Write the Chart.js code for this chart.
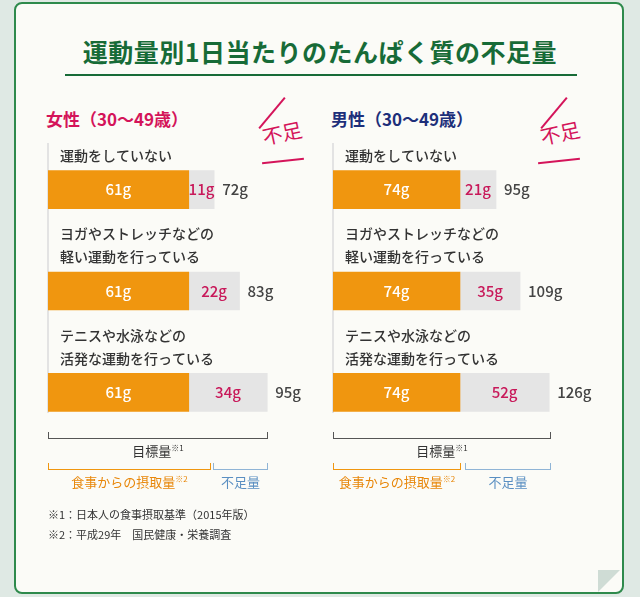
<!DOCTYPE html>
<html><head><meta charset="utf-8">
<script src="https://cdn.jsdelivr.net/npm/chart.js@4"></script>
<style>
body{margin:0;width:640px;height:597px;background:#dfe9e4;font-family:"Noto Sans CJK JP","Noto Sans",sans-serif;overflow:hidden;position:relative}
.card{position:absolute;left:14px;top:2px;width:606px;height:588px;background:#fbfbf7;border:2px solid #2e8a4c;border-radius:8px}
.abs{position:absolute;white-space:nowrap}
.title{left:0;width:640px;top:33px;text-align:center;font-size:25px;font-weight:bold;color:#176b37;letter-spacing:0.5px}
.uline{left:65px;top:74px;width:512px;height:2px;background:#176b37}
h2{margin:0;font-size:17px;font-weight:bold}
.vline{width:2px;background:#e3e3e3}
.br{border:1px solid #555;border-top:none;height:6px}
.small{font-size:12px;color:#333}
canvas{position:absolute}
.fuso{font-size:20px;color:#d4145a;transform:rotate(-12deg);font-family:"Noto Sans CJK JP";}
.stroke{height:2px;background:#d4145a}
</style></head><body>
<div class="card"></div>
<div class="abs title">運動量別1日当たりのたんぱく質の不足量</div>
<div class="abs uline"></div>

<h2 class="abs" style="left:46px;top:106px;color:#d4145a">女性（30〜49歳）</h2>
<h2 class="abs" style="left:331px;top:106px;color:#1d2f7a">男性（30〜49歳）</h2>

<div class="abs stroke" style="left:252px;top:112px;width:40px;transform:rotate(-50deg)"></div>
<div class="abs fuso" style="left:262px;top:118px">不足</div>
<div class="abs stroke" style="left:262px;top:160px;width:42px;transform:rotate(-6deg)"></div>
<div class="abs stroke" style="left:534px;top:112px;width:40px;transform:rotate(-50deg)"></div>
<div class="abs fuso" style="left:540px;top:118px">不足</div>
<div class="abs stroke" style="left:538px;top:160px;width:42px;transform:rotate(-6deg)"></div>

<div class="abs vline" style="left:47px;top:143px;height:270px"></div>
<div class="abs vline" style="left:332px;top:143px;height:270px"></div>

<canvas id="women" style="left:48px;top:139px;width:270px;height:304px"></canvas>
<canvas id="men" style="left:333px;top:139px;width:290px;height:304px"></canvas>

<div class="abs br" style="left:48px;top:432px;width:218px"></div>
<div class="abs small" style="left:48px;top:441px;width:220px;text-align:center;font-size:13px">目標量<sup style="font-size:8px">※1</sup></div>
<div class="abs br" style="left:48px;top:463px;width:161px;border-color:#f0960f"></div>
<div class="abs" style="left:48px;top:472px;width:163px;text-align:center;font-size:13px;color:#e8870a">食事からの摂取量<sup style="font-size:8px">※2</sup></div>
<div class="abs br" style="left:213px;top:463px;width:53px;border-color:#8fb4d6"></div>
<div class="abs" style="left:213px;top:472px;width:55px;text-align:center;font-size:13px;color:#5a8fc2">不足量</div>

<div class="abs br" style="left:333px;top:432px;width:216px"></div>
<div class="abs small" style="left:333px;top:441px;width:218px;text-align:center;font-size:13px">目標量<sup style="font-size:8px">※1</sup></div>
<div class="abs br" style="left:333px;top:463px;width:126px;border-color:#f0960f"></div>
<div class="abs" style="left:333px;top:472px;width:128px;text-align:center;font-size:13px;color:#e8870a">食事からの摂取量<sup style="font-size:8px">※2</sup></div>
<div class="abs br" style="left:465px;top:463px;width:84px;border-color:#8fb4d6"></div>
<div class="abs" style="left:465px;top:472px;width:86px;text-align:center;font-size:13px;color:#5a8fc2">不足量</div>

<div class="abs small" style="left:48px;top:506px;font-size:11px">※1：日本人の食事摂取基準（2015年版）</div>
<div class="abs small" style="left:48px;top:526px;font-size:11px">※2：平成29年　国民健康・栄養調査</div>

<div class="abs" style="left:598px;top:570px;width:0;height:0;border-left:22px solid #cfdcd5;border-bottom:22px solid transparent"></div>

<script>
const categories = [
    ['運動をしていない'],
    ['ヨガやストレッチなどの', '軽い運動を行っている'],
    ['テニスや水泳などの', '活発な運動を行っている']
];
const womenIntake = [61, 61, 61];
const womenShortage = [11, 22, 34];
const womenTarget = [72, 83, 95];
const menIntake = [74, 74, 74];
const menShortage = [21, 35, 52];
const menTarget = [95, 109, 126];

const FONT = '"Noto Sans CJK JP", "Noto Sans", sans-serif';

const labelPlugin = {
    id: 'barLabels',
    afterDatasetsDraw(chart, args, opts) {
        const ctx = chart.ctx;
        const intake = chart.getDatasetMeta(0).data;
        const short = chart.getDatasetMeta(1).data;
        ctx.save();
        intake.forEach((bar, i) => {
            const top = bar.y - bar.height / 2;
            // category label above bar
            ctx.fillStyle = '#333';
            ctx.font = `500 14px ${FONT}`;
            ctx.textAlign = 'left';
            ctx.textBaseline = 'middle';
            const lines = categories[i];
            lines.forEach((line, k) => {
                ctx.fillText(line, 12, top - 15 - (lines.length - 1 - k) * 23);
            });
            ctx.font = `500 15px ${FONT}`;
            ctx.textAlign = 'center';
            ctx.fillStyle = '#fff';
            ctx.fillText(opts.intake[i] + 'g', (bar.base + bar.x) / 2, bar.y);
            const s = short[i];
            ctx.fillStyle = '#c8195a';
            ctx.fillText(opts.shortage[i] + 'g', (s.base + s.x) / 2, s.y);
            ctx.fillStyle = '#444';
            ctx.textAlign = 'left';
            ctx.fillText(opts.target[i] + 'g', s.x + 8, s.y);
        });
        ctx.restore();
    }
};

function renderChart(id, intake, shortage, target, max) {
    return new Chart(document.getElementById(id), {
        type: 'bar',
        data: {
            labels: categories.map(c => c.join('')),
            datasets: [
                { data: intake, backgroundColor: '#f0960f', barThickness: 38 },
                { data: shortage, backgroundColor: '#e5e5e5', barThickness: 38 }
            ]
        },
        options: {
            indexAxis: 'y',
            responsive: false,
            animation: false,
            layout: { padding: 0 },
            scales: {
                x: { stacked: true, min: 0, max: max, display: false },
                y: { stacked: true, display: false }
            },
            plugins: {
                legend: { display: false },
                tooltip: { enabled: false },
                barLabels: { intake, shortage, target }
            }
        },
        plugins: [labelPlugin]
    });
}

function sizeCanvas(id) {
    const c = document.getElementById(id);
    c.width = parseInt(c.style.width);
    c.height = parseInt(c.style.height);
}
sizeCanvas('women');
sizeCanvas('men');
renderChart('women', womenIntake, womenShortage, womenTarget, 117);
renderChart('men', menIntake, menShortage, menTarget, 169);
</script>
</body></html>
